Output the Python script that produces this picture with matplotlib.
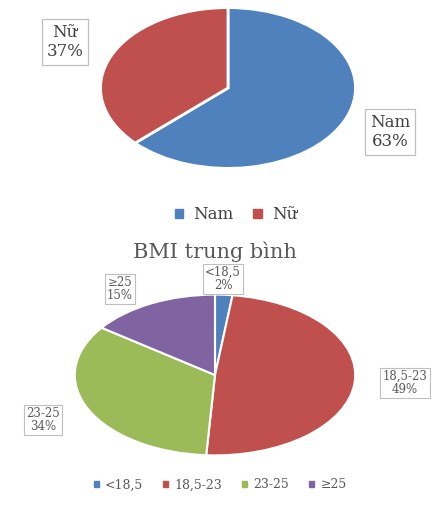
import matplotlib
matplotlib.use("Agg")
import matplotlib.pyplot as plt
from matplotlib.patches import Patch

W, H = 441, 505
gender_labels = ["Nam", "Nữ"]
gender_values = [63, 37]
gender_colors = ["#4F81BD", "#C0504D"]

bmi_title = "BMI trung bình"
bmi_labels = ["<18,5", "18,5-23", "23-25", "≥25"]
bmi_values = [2, 49, 34, 15]
bmi_colors = ["#4F81BD", "#C0504D", "#9BBB59", "#8064A2"]

plt.rcParams['font.family'] = ['DejaVu Serif', 'DejaVu Sans']
fig = plt.figure(figsize=(W / 100, H / 100), dpi=100)

def fbox(x0, y0, x1, y1):
    return [x0 / W, 1 - y1 / H, (x1 - x0) / W, (y1 - y0) / H]

def fx(x):
    return x / W

def fy(y):
    return 1 - y / H

# ---- top pie ----
ax1 = fig.add_axes(fbox(98, 6, 358, 170))
ax1.pie(gender_values, colors=gender_colors, startangle=90, counterclock=False,
        wedgeprops=dict(edgecolor="white", linewidth=2))
ax1.set_aspect("auto")
ax1.set_xlim(-1.02, 1.02)
ax1.set_ylim(-1.02, 1.02)
ax1.axis("off")

box = dict(boxstyle="square,pad=0.3", fc="white", ec="#BFBFBF", lw=0.9)
top_pos = {"Nam": (390, 132), "Nữ": (65, 42)}
for lab, v in zip(gender_labels, gender_values):
    x, y = top_pos[lab]
    fig.text(fx(x), fy(y), f"{lab}\n{v}%", ha="center", va="center", fontsize=12,
             color="#404040", bbox=box, linespacing=1.1)

leg1 = fig.legend(handles=[Patch(color=c, label=l) for c, l in zip(gender_colors, gender_labels)],
                  loc="center", bbox_to_anchor=(fx(236), fy(215)), ncol=2, frameon=False,
                  fontsize=12, handlelength=0.5, handleheight=0.5, handletextpad=0.6,
                  columnspacing=1.2, labelcolor="#404040")

# ---- bottom pie ----
fig.text(fx(215), fy(252), bmi_title, ha="center", va="center", fontsize=15,
         color="#595959")
ax2 = fig.add_axes(fbox(72, 293, 358, 457))
ax2.pie(bmi_values, colors=bmi_colors, startangle=90, counterclock=False,
        wedgeprops=dict(edgecolor="white", linewidth=1.5))
ax2.set_aspect("auto")
ax2.set_xlim(-1.02, 1.02)
ax2.set_ylim(-1.02, 1.02)
ax2.axis("off")

box2 = dict(boxstyle="square,pad=0.2", fc="white", ec="#BFBFBF", lw=0.8)
bmi_pos = {"<18,5": (223, 279), "18,5-23": (405, 383), "23-25": (43, 420), "≥25": (120, 289)}
for lab, v in zip(bmi_labels, bmi_values):
    x, y = bmi_pos[lab]
    fig.text(fx(x), fy(y), f"{lab}\n{v}%", ha="center", va="center", fontsize=8.5,
             color="#595959", bbox=box2, linespacing=1.0)

fig.legend(handles=[Patch(color=c, label=l) for c, l in zip(bmi_colors, bmi_labels)],
           loc="center", bbox_to_anchor=(fx(220), fy(485)), ncol=4, frameon=False,
           fontsize=9, handlelength=0.4, handleheight=0.4, handletextpad=0.5,
           columnspacing=1.6, labelcolor="#595959")

fig.savefig("out.png", dpi=100, facecolor="white")
